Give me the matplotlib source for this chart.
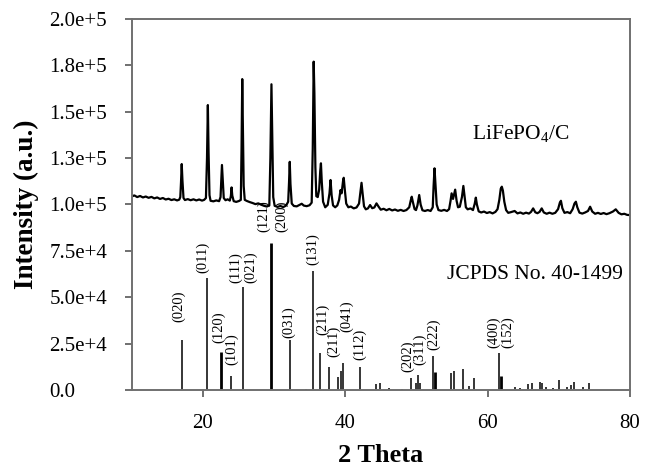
import numpy as np
import matplotlib
matplotlib.use('Agg')
import matplotlib.pyplot as plt

plt.rcParams['font.family'] = 'Liberation Serif'
plt.rcParams['mathtext.fontset'] = 'custom'
plt.rcParams['mathtext.rm'] = 'Liberation Serif'
plt.rcParams['mathtext.it'] = 'Liberation Serif:italic'
plt.rcParams['mathtext.bf'] = 'Liberation Serif:bold'

lfp_trace = [
    (10.0, 104300), (10.4, 104900), (10.8, 104000), (11.2, 104600), (11.6, 103800),
    (12.0, 104300), (12.4, 103600), (12.8, 104100), (13.2, 103300), (13.6, 103800),
    (14.0, 103000), (14.4, 103500), (14.8, 102700), (15.2, 103100), (15.6, 102400),
    (16.0, 102800), (16.4, 102200), (16.7, 102600),
    (16.85, 104000), (16.95, 112000), (17.05, 121800), (17.15, 113000), (17.3, 103500),
    (17.5, 102400), (17.9, 102900), (18.3, 102300), (18.7, 102800), (19.1, 102200),
    (19.5, 102700), (19.9, 102100), (20.2, 102500), (20.45, 103500),
    (20.6, 125000), (20.72, 153600), (20.82, 128000), (20.95, 105000), (21.1, 102000),
    (21.5, 101700), (21.9, 102200), (22.3, 101800), (22.5, 104000),
    (22.62, 115000), (22.7, 121300), (22.8, 114000), (22.95, 103500), (23.2, 102300),
    (23.5, 102800), (23.8, 102100),
    (23.95, 104500), (24.05, 109200), (24.15, 104800), (24.35, 101800), (24.7, 101400),
    (25.1, 101900), (25.35, 102500),
    (25.45, 130000), (25.55, 167600), (25.63, 145000), (25.75, 110000), (25.9, 102500),
    (26.2, 101900), (26.6, 101300), (27.0, 100800), (27.4, 100200), (27.8, 100600),
    (28.2, 99900), (28.6, 99300), (29.0, 98900), (29.35, 99500),
    (29.5, 125000), (29.65, 164800), (29.75, 140000), (29.9, 104000), (30.1, 99300),
    (30.5, 98700), (30.9, 99200), (31.3, 98600), (31.7, 99400), (32.0, 101500),
    (32.12, 112000), (32.22, 123000), (32.32, 111000), (32.5, 100500), (32.8, 99200),
    (33.2, 99000), (33.6, 99800), (33.9, 100400), (34.2, 99400), (34.6, 99100),
    (35.0, 99600), (35.3, 101000),
    (35.45, 130000), (35.58, 177000), (35.68, 160000), (35.82, 120000), (35.95, 104500),
    (36.15, 104000), (36.35, 108000),
    (36.5, 118000), (36.6, 122200), (36.72, 112000), (36.9, 101500), (37.2, 98500),
    (37.55, 99800),
    (37.8, 106000), (37.95, 113200), (38.1, 105000), (38.3, 99500), (38.6, 98500),
    (38.9, 99500), (39.15, 102500), (39.35, 107800), (39.5, 106000), (39.7, 112500),
    (39.8, 114400), (39.95, 108000), (40.15, 100500), (40.45, 98500), (40.8, 98900),
    (41.2, 97900), (41.6, 98400), (41.95, 100500),
    (42.15, 107000), (42.3, 111700), (42.45, 106000), (42.65, 99000), (42.9, 97400),
    (43.2, 97900), (43.5, 99700), (43.8, 98000), (44.1, 98400), (44.4, 100600),
    (44.7, 98800), (45.0, 97200), (45.4, 97700), (45.8, 96900), (46.2, 97600),
    (46.6, 96800), (47.0, 97300), (47.4, 96600), (47.8, 97100), (48.2, 96500),
    (48.6, 97000), (49.0, 98500),
    (49.2, 102000), (49.35, 104200), (49.5, 101500), (49.75, 97500), (49.95, 97000),
    (50.15, 99500), (50.4, 105100), (50.6, 100000), (50.85, 96900), (51.2, 96500),
    (51.6, 97000), (52.0, 96500), (52.3, 98500),
    (52.42, 110000), (52.55, 119500), (52.68, 111000), (52.85, 100000), (53.1, 97000),
    (53.5, 96600), (53.9, 97100), (54.3, 96500), (54.6, 97500), (54.8, 102000),
    (54.95, 106000), (55.15, 103000), (55.45, 108000), (55.65, 102000), (55.85, 98500),
    (56.1, 98800), (56.4, 104000), (56.6, 110000), (56.75, 105000), (56.95, 98500),
    (57.2, 97400), (57.6, 97900), (57.95, 97000), (58.2, 100500), (58.35, 103700),
    (58.5, 100000), (58.75, 96300), (59.1, 95700), (59.5, 96200), (59.9, 95400),
    (60.3, 95900), (60.7, 95200), (61.1, 96000), (61.4, 97500), (61.65, 102500),
    (61.85, 108500), (62.0, 109600), (62.15, 107500), (62.35, 101500), (62.6, 97000),
    (62.9, 95500), (63.3, 95900), (63.8, 96500), (64.2, 95200), (64.6, 95700),
    (65.0, 95000), (65.4, 95600), (65.8, 95100), (66.1, 96000), (66.4, 97900),
    (66.7, 95800), (67.0, 95300), (67.3, 96000), (67.6, 97900), (67.9, 95700),
    (68.3, 95000), (68.7, 95600), (69.1, 95000), (69.5, 95500), (69.9, 97500),
    (70.15, 101000), (70.3, 102000), (70.5, 98000), (70.8, 95500), (71.2, 95900),
    (71.6, 95300), (71.95, 97500), (72.2, 100500), (72.4, 101500), (72.6, 98500),
    (72.9, 95600), (73.3, 95100), (73.7, 95700), (74.1, 96500), (74.4, 98800),
    (74.7, 96200), (75.1, 95000), (75.5, 95500), (75.9, 94900), (76.3, 95400),
    (76.7, 94800), (77.1, 95300), (77.6, 96200), (78.0, 97400), (78.4, 95500),
    (78.8, 94700), (79.2, 95000), (79.6, 94400), (80.0, 94300),
]

# JCPDS 40-1499 reference lines
stick_theta = [17.05, 20.65, 22.57, 23.98, 25.6, 29.63, 32.2, 34.5, 35.45, 36.5,
               37.8, 39.05, 39.4, 39.65, 42.1, 44.3, 44.9, 46.2, 48.0, 49.2,
               49.96, 50.24, 50.5, 52.4, 52.55, 54.9, 55.25, 56.5, 57.4, 58.1,
               61.66, 61.9, 63.9, 64.5, 65.7, 66.2, 67.4, 67.6, 68.2, 69.2,
               70.0, 71.1, 71.7, 72.2, 73.4, 74.3]
stick_int = [27000, 60500, 20500, 7700, 55700, 79000, 27000, 600, 64300, 19800,
             12600, 7000, 10000, 14700, 12600, 3000, 3900, 1200, 500, 6300,
             3700, 8000, 3700, 18300, 9900, 9300, 10200, 11100, 2000, 6300,
             19800, 7500, 1800, 1000, 3200, 3900, 4500, 4000, 1500, 1200,
             5400, 1800, 2800, 4500, 1800, 3800]
thick_lines = [22.57, 29.63, 52.55, 61.9]

hkl = ['(020)', '(011)', '(120)', '(101)', '(111)', '(021)', '(121)', '(200)',
       '(031)', '(131)', '(211)', '(211)', '(041)', '(112)', '(202)', '(311)',
       '(222)', '(400)', '(152)']
# label anchor (2 theta, bottom of text)
hkl_x = [16.6, 20.0, 22.2, 24.07, 24.65, 26.7, 28.5, 31.05, 32.0, 35.5, 36.9, 38.35,
         40.2, 42.1, 48.75, 50.45, 52.4, 60.85, 62.75]
hkl_y = [36600, 63000, 25300, 13500, 57700, 57700, 85200, 85200, 28000, 67400, 29600,
         17800, 31300, 16200, 9700, 13500, 21600, 22600, 22600]

ytick_vals = [0, 25000, 50000, 75000, 100000, 125000, 150000, 175000, 200000]
ytick_labels = ['0.0', '2.5e+4', '5.0e+4', '7.5e+4', '1.0e+5', '1.3e+5', '1.5e+5',
                '1.8e+5', '2.0e+5']
xtick_vals = [20, 40, 60, 80]

fig = plt.figure(figsize=(6.54, 4.70), dpi=100)
ax = fig.add_axes([0.2011, 0.1702, 0.7622, 0.7894])

tt, cc = np.array(lfp_trace).T
ax.plot(tt, cc, color='black', lw=1.6)

lw = [2.0 if t in thick_lines else 1.1 for t in stick_theta]
ax.vlines(stick_theta, 0, stick_int, colors='black', linewidths=lw)

for lab, x, y in zip(hkl, hkl_x, hkl_y):
    ax.text(x, y, lab, rotation=90, ha='center', va='bottom', fontsize=10.5)

ax.text(64.6, 138500, 'LiFePO$_4$/C', fontsize=15.5, ha='center', va='center')
ax.text(66.6, 62000, 'JCPDS No. 40-1499', fontsize=15.5, ha='center', va='center')

ax.set_xlim(10, 80)
ax.set_ylim(0, 200000)
ax.set_xticks(xtick_vals)
ax.set_xticklabels([str(v) for v in xtick_vals], fontsize=15)
ax.set_yticks(ytick_vals)
ax.set_yticklabels(ytick_labels, fontsize=15, ha='left')

for s in ax.spines.values():
    s.set_color('#707070')
    s.set_linewidth(1.4)
ax.tick_params(direction='out', length=5, width=1.4, color='#707070')
ax.tick_params(axis='x', pad=12)
ax.tick_params(axis='y', pad=54)

ax.set_xlabel('2 Theta', fontsize=19, fontweight='bold')
ax.set_ylabel('Intensity (a.u.)', fontsize=19.5, fontweight='bold')
ax.xaxis.set_label_coords(0.5, -0.145)
ax.yaxis.set_label_coords(-0.185, 0.5)
ax.xaxis.label.set_va('top')

fig.savefig('out.png', dpi=100)
